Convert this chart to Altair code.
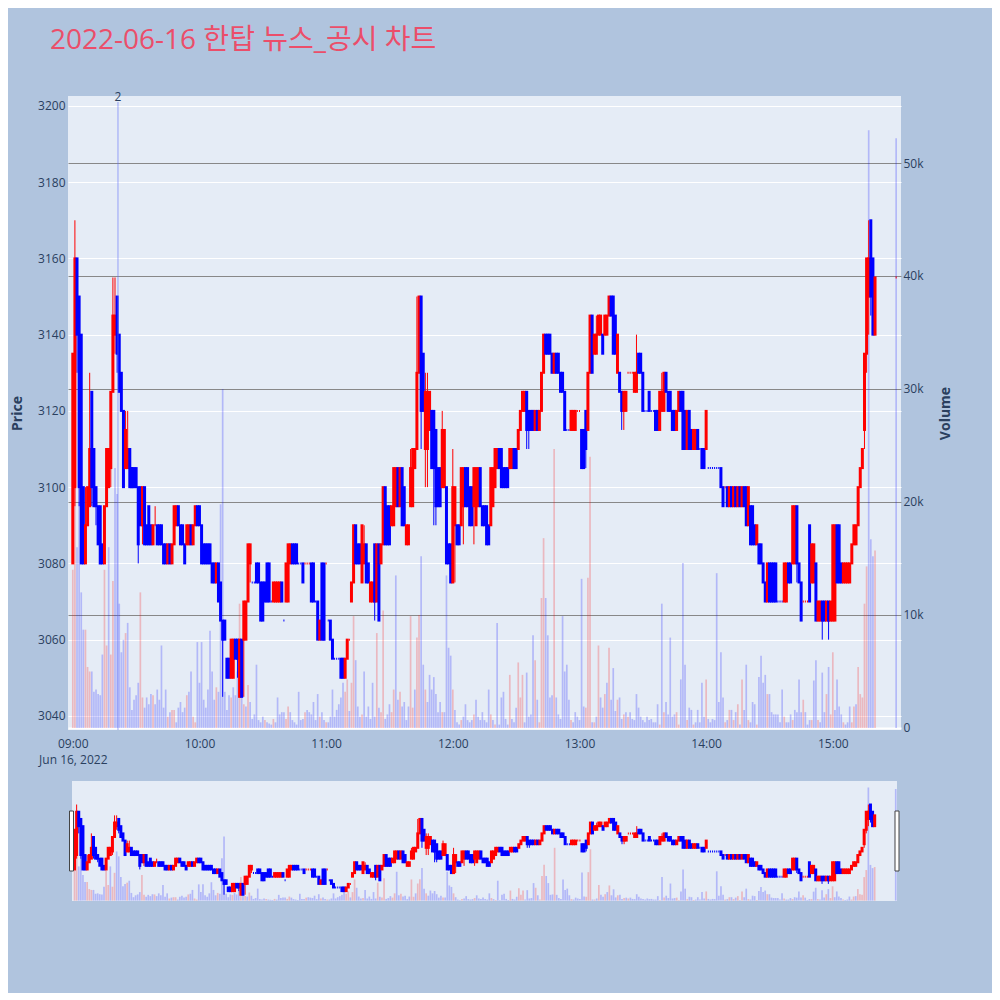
import altair as alt
import pandas as pd

TITLE = "2022-06-16 한탑 뉴스_공시 차트"
FONT = "Open Sans, Noto Sans CJK KR, sans-serif"
INK = "#2a3f5f"
UP = "#FF0000"
DOWN = "#0000FF"

# minutes after 09:00 (last row is the 15:30 closing auction)
minutes = list(range(381)) + [390]

opens = [
    3080, 3100, 3160, 3150, 3140, 3100, 3080, 3090, 3095, 3125,
    3110, 3100, 3095, 3095, 3085, 3080, 3095, 3100, 3105, 3125,
    3140, 3150, 3140, 3130, 3120, 3105, 3105, 3110, 3105, 3105,
    3105, 3100, 3100, 3090, 3100, 3090, 3095, 3090, 3085, 3090,
    3090, 3090, 3090, 3085, 3085, 3080, 3085, 3080, 3085, 3090,
    3095, 3090, 3090, 3085, 3085, 3085, 3090, 3085, 3090, 3095,
    3095, 3090, 3085, 3085, 3085, 3085, 3080, 3080, 3075, 3080,
    3075, 3065, 3065, 3055, 3055, 3050, 3050, 3060, 3060, 3045,
    3060, 3060, 3060, 3070, 3080, 3075, 3075, 3080, 3080, 3075,
    3075, 3075, 3080, 3080, 3070, 3070, 3070, 3070, 3070, 3075,
    3065, 3070, 3070, 3080, 3085, 3085, 3085, 3080, 3080, 3080,
    3080, 3080, 3080, 3080, 3080, 3070, 3070, 3060, 3080, 3080,
    3080, 3065, 3065, 3060, 3055, 3055, 3055, 3055, 3055, 3050,
    3055, 3060, 3070, 3075, 3090, 3085, 3085, 3075, 3080, 3085,
    3080, 3070, 3070, 3085, 3070, 3085, 3080, 3085, 3100, 3095,
    3095, 3090, 3090, 3095, 3105, 3095, 3105, 3100, 3085, 3085,
    3095, 3095, 3105, 3110, 3130, 3150, 3135, 3110, 3110, 3115,
    3120, 3120, 3115, 3105, 3105, 3100, 3100, 3100, 3085, 3085,
    3075, 3090, 3090, 3090, 3090, 3095, 3105, 3105, 3100, 3100,
    3095, 3090, 3095, 3105, 3095, 3095, 3095, 3090, 3090, 3095,
    3100, 3105, 3110, 3110, 3105, 3105, 3105, 3105, 3105, 3110,
    3110, 3110, 3115, 3120, 3120, 3125, 3120, 3120, 3120, 3115,
    3120, 3115, 3120, 3130, 3140, 3140, 3140, 3135, 3130, 3135,
    3135, 3130, 3130, 3125, 3115, 3115, 3115, 3115, 3115, 3120,
    3120, 3115, 3115, 3120, 3115, 3130, 3145, 3135, 3135, 3140,
    3140, 3140, 3140, 3140, 3145, 3150, 3150, 3145, 3130, 3130,
    3125, 3120, 3120, 3130, 3130, 3130, 3125, 3125, 3135, 3135,
    3130, 3120, 3120, 3125, 3120, 3120, 3120, 3120, 3115, 3120,
    3120, 3130, 3125, 3125, 3120, 3120, 3115, 3120, 3125, 3125,
    3120, 3110, 3120, 3115, 3110, 3110, 3115, 3110, 3110, 3110,
    3110, 3105, 3105, 3105, 3105, 3105, 3105, 3105, 3100, 3100,
    3100, 3095, 3100, 3095, 3100, 3095, 3100, 3095, 3100, 3100,
    3090, 3095, 3095, 3090, 3085, 3085, 3085, 3080, 3075, 3070,
    3080, 3080, 3080, 3080, 3070, 3070, 3070, 3070, 3070, 3080,
    3080, 3080, 3080, 3095, 3080, 3075, 3070, 3070, 3070, 3090,
    3075, 3075, 3080, 3065, 3065, 3070, 3070, 3065, 3070, 3065,
    3065, 3065, 3090, 3090, 3080, 3075, 3075, 3075, 3075, 3080,
    3085, 3085, 3090, 3100, 3105, 3115, 3135, 3150, 3170, 3160,
    3140, 3155,
]

closes = [
    3135, 3160, 3140, 3100, 3080, 3080, 3090, 3100, 3110, 3100,
    3095, 3095, 3085, 3080, 3080, 3095, 3110, 3110, 3125, 3145,
    3145, 3135, 3125, 3120, 3100, 3115, 3110, 3100, 3100, 3100,
    3100, 3085, 3090, 3100, 3085, 3085, 3085, 3085, 3090, 3090,
    3085, 3085, 3085, 3080, 3080, 3085, 3080, 3085, 3095, 3095,
    3090, 3085, 3085, 3080, 3090, 3090, 3085, 3090, 3095, 3090,
    3090, 3080, 3080, 3080, 3080, 3080, 3075, 3075, 3080, 3070,
    3065, 3060, 3060, 3050, 3050, 3060, 3060, 3055, 3055, 3060,
    3045, 3070, 3070, 3085, 3085, 3075, 3075, 3075, 3075, 3065,
    3065, 3070, 3070, 3070, 3070, 3075, 3075, 3075, 3075, 3070,
    3065, 3080, 3085, 3085, 3080, 3080, 3080, 3080, 3080, 3075,
    3080, 3080, 3080, 3070, 3070, 3070, 3060, 3065, 3060, 3060,
    3080, 3065, 3060, 3055, 3055, 3055, 3055, 3050, 3050, 3055,
    3060, 3060, 3075, 3090, 3080, 3080, 3080, 3090, 3085, 3075,
    3075, 3075, 3075, 3070, 3085, 3065, 3085, 3100, 3085, 3085,
    3085, 3095, 3105, 3105, 3095, 3105, 3090, 3090, 3090, 3090,
    3105, 3110, 3110, 3130, 3150, 3120, 3120, 3125, 3125, 3125,
    3105, 3105, 3095, 3095, 3095, 3115, 3115, 3080, 3080, 3075,
    3100, 3100, 3085, 3085, 3105, 3105, 3095, 3095, 3090, 3090,
    3105, 3105, 3105, 3095, 3090, 3090, 3085, 3085, 3105, 3105,
    3110, 3110, 3105, 3100, 3100, 3100, 3100, 3110, 3110, 3105,
    3105, 3115, 3120, 3125, 3125, 3115, 3115, 3115, 3115, 3120,
    3115, 3120, 3130, 3140, 3135, 3135, 3135, 3130, 3135, 3130,
    3130, 3125, 3125, 3115, 3115, 3115, 3120, 3120, 3120, 3120,
    3120, 3105, 3105, 3110, 3130, 3145, 3130, 3140, 3140, 3145,
    3145, 3135, 3145, 3145, 3150, 3145, 3135, 3135, 3140, 3125,
    3120, 3125, 3125, 3130, 3130, 3130, 3130, 3130, 3130, 3130,
    3120, 3120, 3120, 3120, 3120, 3120, 3115, 3115, 3125, 3125,
    3130, 3125, 3120, 3120, 3115, 3115, 3120, 3125, 3120, 3110,
    3110, 3120, 3110, 3110, 3115, 3115, 3110, 3110, 3105, 3105,
    3120, 3105, 3105, 3105, 3105, 3105, 3105, 3100, 3095, 3100,
    3095, 3100, 3095, 3100, 3095, 3100, 3095, 3100, 3095, 3090,
    3100, 3085, 3085, 3085, 3090, 3080, 3080, 3075, 3070, 3080,
    3070, 3070, 3070, 3070, 3070, 3070, 3070, 3080, 3080, 3075,
    3075, 3095, 3095, 3080, 3075, 3065, 3070, 3070, 3070, 3070,
    3085, 3085, 3065, 3070, 3070, 3065, 3065, 3070, 3065, 3070,
    3090, 3090, 3075, 3075, 3075, 3080, 3080, 3080, 3080, 3085,
    3090, 3090, 3100, 3105, 3110, 3135, 3160, 3160, 3150, 3140,
    3155, 3155,
]

highs = [
    3135, 3170, 3160, 3150, 3140, 3100, 3100, 3100, 3130, 3125,
    3110, 3100, 3095, 3095, 3085, 3095, 3110, 3110, 3125, 3155,
    3155, 3150, 3140, 3130, 3120, 3120, 3120, 3110, 3105, 3105,
    3105, 3100, 3100, 3100, 3100, 3090, 3095, 3090, 3090, 3095,
    3090, 3090, 3090, 3085, 3085, 3085, 3085, 3085, 3095, 3095,
    3095, 3090, 3090, 3085, 3090, 3090, 3090, 3090, 3095, 3095,
    3095, 3090, 3085, 3085, 3085, 3085, 3080, 3080, 3080, 3080,
    3075, 3065, 3065, 3055, 3055, 3060, 3060, 3060, 3060, 3060,
    3060, 3070, 3070, 3085, 3085, 3075, 3075, 3080, 3080, 3075,
    3075, 3075, 3080, 3080, 3070, 3075, 3075, 3075, 3075, 3075,
    3065, 3080, 3085, 3085, 3085, 3085, 3085, 3080, 3080, 3080,
    3080, 3080, 3080, 3080, 3080, 3070, 3070, 3065, 3080, 3080,
    3080, 3065, 3065, 3060, 3055, 3055, 3055, 3055, 3055, 3055,
    3060, 3060, 3075, 3090, 3090, 3085, 3085, 3090, 3090, 3085,
    3080, 3075, 3075, 3085, 3085, 3085, 3085, 3100, 3100, 3095,
    3095, 3095, 3105, 3105, 3105, 3105, 3105, 3100, 3090, 3090,
    3110, 3110, 3110, 3150, 3150, 3150, 3135, 3130, 3130, 3125,
    3120, 3120, 3115, 3105, 3105, 3120, 3115, 3100, 3085, 3085,
    3110, 3100, 3090, 3090, 3105, 3105, 3105, 3105, 3100, 3100,
    3105, 3105, 3105, 3105, 3095, 3095, 3095, 3090, 3105, 3105,
    3110, 3110, 3110, 3110, 3105, 3105, 3105, 3110, 3110, 3110,
    3110, 3115, 3120, 3125, 3125, 3125, 3120, 3120, 3120, 3120,
    3120, 3120, 3130, 3140, 3140, 3140, 3140, 3135, 3135, 3135,
    3135, 3130, 3130, 3125, 3115, 3115, 3120, 3120, 3120, 3120,
    3120, 3115, 3115, 3120, 3130, 3145, 3145, 3140, 3145, 3145,
    3145, 3140, 3145, 3145, 3150, 3150, 3150, 3145, 3140, 3130,
    3125, 3125, 3125, 3130, 3130, 3130, 3130, 3140, 3135, 3135,
    3130, 3120, 3120, 3125, 3120, 3120, 3120, 3120, 3125, 3130,
    3130, 3130, 3125, 3125, 3120, 3120, 3120, 3125, 3125, 3125,
    3120, 3120, 3120, 3115, 3115, 3115, 3115, 3110, 3110, 3110,
    3120, 3105, 3105, 3105, 3105, 3105, 3105, 3105, 3100, 3100,
    3100, 3100, 3100, 3100, 3100, 3100, 3100, 3100, 3100, 3100,
    3100, 3095, 3095, 3090, 3090, 3085, 3085, 3080, 3075, 3080,
    3080, 3080, 3080, 3080, 3070, 3070, 3070, 3080, 3080, 3080,
    3080, 3095, 3095, 3095, 3080, 3075, 3070, 3070, 3070, 3090,
    3085, 3085, 3080, 3070, 3070, 3070, 3070, 3070, 3070, 3070,
    3090, 3090, 3090, 3090, 3080, 3080, 3080, 3080, 3080, 3085,
    3090, 3090, 3100, 3105, 3110, 3135, 3160, 3170, 3170, 3160,
    3155, 3155,
]

lows = [
    3080, 3095, 3130, 3095, 3080, 3080, 3080, 3090, 3095, 3095,
    3095, 3090, 3085, 3080, 3080, 3080, 3095, 3100, 3100, 3125,
    3135, 3130, 3125, 3120, 3100, 3105, 3105, 3100, 3100, 3100,
    3100, 3080, 3090, 3085, 3085, 3085, 3085, 3085, 3085, 3090,
    3085, 3085, 3085, 3080, 3080, 3080, 3080, 3080, 3085, 3090,
    3090, 3085, 3085, 3080, 3085, 3085, 3085, 3085, 3090, 3090,
    3090, 3080, 3080, 3080, 3080, 3080, 3075, 3075, 3075, 3070,
    3065, 3045, 3060, 3050, 3050, 3050, 3050, 3055, 3050, 3045,
    3045, 3045, 3060, 3070, 3075, 3075, 3075, 3075, 3075, 3065,
    3065, 3070, 3070, 3070, 3070, 3070, 3070, 3070, 3070, 3070,
    3065, 3070, 3070, 3080, 3080, 3080, 3080, 3080, 3080, 3075,
    3080, 3080, 3080, 3070, 3070, 3070, 3060, 3060, 3060, 3060,
    3080, 3065, 3060, 3055, 3055, 3055, 3055, 3050, 3050, 3050,
    3055, 3060, 3070, 3075, 3080, 3080, 3080, 3075, 3080, 3075,
    3075, 3070, 3070, 3065, 3070, 3065, 3080, 3085, 3085, 3085,
    3085, 3090, 3090, 3095, 3095, 3095, 3090, 3090, 3085, 3085,
    3095, 3095, 3105, 3110, 3130, 3110, 3120, 3100, 3100, 3115,
    3105, 3090, 3090, 3095, 3095, 3100, 3100, 3080, 3080, 3075,
    3075, 3075, 3085, 3085, 3090, 3085, 3095, 3095, 3090, 3090,
    3085, 3090, 3095, 3095, 3090, 3090, 3085, 3085, 3090, 3095,
    3100, 3105, 3105, 3100, 3100, 3100, 3100, 3105, 3105, 3105,
    3105, 3110, 3115, 3120, 3120, 3110, 3110, 3115, 3115, 3115,
    3115, 3115, 3120, 3130, 3135, 3135, 3135, 3130, 3130, 3130,
    3130, 3125, 3125, 3115, 3115, 3115, 3115, 3115, 3115, 3120,
    3120, 3105, 3105, 3105, 3115, 3130, 3130, 3135, 3135, 3140,
    3140, 3135, 3140, 3140, 3145, 3145, 3135, 3135, 3130, 3125,
    3115, 3115, 3120, 3130, 3130, 3130, 3125, 3125, 3130, 3130,
    3120, 3120, 3120, 3120, 3120, 3120, 3115, 3115, 3115, 3120,
    3120, 3125, 3120, 3120, 3115, 3115, 3115, 3120, 3120, 3110,
    3110, 3110, 3110, 3110, 3110, 3110, 3110, 3110, 3105, 3105,
    3110, 3105, 3105, 3105, 3105, 3105, 3105, 3100, 3095, 3100,
    3095, 3095, 3095, 3095, 3095, 3095, 3095, 3095, 3095, 3090,
    3090, 3085, 3085, 3085, 3085, 3080, 3080, 3075, 3070, 3070,
    3070, 3070, 3070, 3070, 3070, 3070, 3070, 3070, 3070, 3075,
    3075, 3080, 3080, 3075, 3075, 3065, 3070, 3070, 3070, 3070,
    3075, 3075, 3065, 3065, 3065, 3060, 3065, 3065, 3060, 3065,
    3065, 3065, 3075, 3075, 3075, 3075, 3075, 3075, 3075, 3080,
    3085, 3085, 3090, 3100, 3105, 3110, 3130, 3140, 3145, 3140,
    3140, 3155,
]

# volume in thousands of shares
volumes_k = [
    14, 23, 16, 20, 12, 8.7, 8.7, 5.4, 5, 5,
    3.2, 3.4, 3, 2.9, 6.5, 14, 7.3, 16, 6.5, 13,
    23, 20.7, 11, 6.7, 7.8, 8.4, 9.3, 3.6, 1.6, 2.5,
    2.9, 4, 12, 2.7, 1.8, 2.7, 2.1, 3, 2.9, 2.1,
    3.4, 2.5, 7.3, 1.8, 3.4, 1, 1.4, 1.6, 1.6, 0.5,
    1.8, 2.3, 1.4, 1.8, 2.9, 3.2, 5, 1, 0.5, 7.6,
    4, 7.6, 2.5, 1.8, 3.4, 8.6, 5, 2.5, 3.6, 3.2,
    19.8, 30, 3.2, 1.6, 2.9, 2.7, 3.6, 2.9, 5, 11,
    3.8, 2.1, 1.9, 3.8, 2.3, 0.8, 1.2, 5.6, 0.7, 0.5,
    1, 0.7, 0.5, 0.4, 0.3, 0.8, 0.5, 2.7, 1.2, 1.4,
    1.4, 0.8, 1.9, 1.4, 0.7, 0.5, 0.3, 3.2, 0.7, 0.8,
    1.4, 1.6, 1.4, 1.2, 2.3, 0.7, 3, 1, 1.4, 0.7,
    0.5, 0.5, 1, 3.4, 1, 1.6, 2.1, 2.7, 4, 3.2,
    4.3, 1.5, 4, 9.9, 6, 1.9, 1, 1.2, 5, 1,
    1.9, 0.8, 4, 1, 8.4, 1.8, 1.4, 10.4, 0.8, 1.2,
    2.1, 1.4, 3.4, 13.5, 2.5, 3.2, 1.9, 2.3, 0.7, 1.9,
    9.9, 1.8, 3.4, 8, 10, 15.2, 5.6, 3.4, 2.3, 4.7,
    3.4, 4.5, 3, 1.4, 2.3, 1.4, 1.4, 13.5, 7.1, 6.4,
    3.4, 1.6, 0.5, 0.3, 0.7, 1, 2.1, 0.7, 0.5, 0.7,
    1.2, 2.5, 1, 0.7, 1.4, 0.7, 0.5, 3.4, 1.2, 0.7,
    0.3, 9.3, 0.3, 2.7, 3.2, 0.8, 0.3, 4.7, 0.8, 0.5,
    1.8, 5.8, 2.7, 4.7, 0.5, 4.9, 1, 1.2, 8.2, 6,
    2.5, 0.5, 11.5, 16.8, 11.5, 8.2, 2.7, 2.9, 24.7, 2.7,
    1.2, 0.8, 9.9, 5, 5.6, 2.5, 0.7, 0.5, 1.4, 1,
    0.7, 13.2, 1.9, 1.8, 13.3, 24, 0.5, 0.5, 1, 7.3,
    2.7, 1.8, 3, 4, 7.1, 2.5, 5.3, 1.5, 2.5, 2.7,
    0.8, 1.2, 1.4, 1, 1.4, 0.8, 0.7, 3, 1.8, 1,
    0.7, 0.5, 1, 0.7, 0.8, 0.5, 0.5, 2.1, 0.3, 11,
    1.4, 2.3, 1.2, 8, 1, 1.2, 1.4, 0.3, 4.3, 14.6,
    5.6, 0.7, 1.8, 1.6, 0.3, 0.5, 1.6, 0.5, 4, 1,
    4.3, 0.8, 0.5, 0.8, 0.7, 13.7, 2.3, 6.7, 2.7, 0.5,
    0.7, 1.6, 1.6, 0.7, 1.4, 2.1, 0.3, 4.3, 1.6, 5.6,
    0.7, 0.5, 2.3, 2.1, 0.3, 4.5, 6.4, 4, 4.7, 3,
    3, 1.4, 1.2, 1.2, 1.2, 0.5, 3.4, 1, 0.5, 0.5,
    1.2, 0.7, 1.6, 1.4, 4.3, 1.4, 2.5, 1.4, 0.3, 0.7,
    0.7, 4.2, 6, 0.7, 0.5, 4.9, 1.4, 3, 5.4, 1.2,
    6.7, 1.6, 4.3, 1.9, 1.2, 0.5, 0.3, 0.5, 1.9, 0.5,
    1.9, 2.1, 5.4, 3, 2.7, 11, 14.3, 52.9, 16.7, 15.2,
    15.7, 52.2,
]

news_minutes = [21.4]
news_labels = ["2"]

hour_ticks = [0, 60, 120, 180, 240, 300, 360]
hour_labels = ["09:00", "10:00", "11:00", "12:00", "13:00", "14:00", "15:00"]
date_label = "Jun 16, 2022"
price_ticks = [3040, 3060, 3080, 3100, 3120, 3140, 3160, 3180, 3200]
volume_ticks = [0, 10, 20, 30, 40, 50]

PRICE_DOMAIN = [3036.3, 3202.6]
VOLUME_DOMAIN = [-0.18, 55.93]

# plotly-style direction: flat candles follow the previous close
rows = []
prev_close, prev_dir = None, "up"
for m, o, h, l, c, v in zip(minutes, opens, highs, lows, closes, volumes_k):
    if c > o:
        d = "up"
    elif c < o:
        d = "down"
    elif prev_close is None or c > prev_close:
        d = "up"
    elif c < prev_close:
        d = "down"
    else:
        d = prev_dir
    vd = "up" if prev_close is None or c > prev_close else "down"
    rows.append({"m": m, "o": o, "h": h, "l": l, "c": c, "v": v, "dir": d, "vdir": vd})
    prev_close, prev_dir = c, d
df = pd.DataFrame(rows)
news = pd.DataFrame({"m": news_minutes, "label": news_labels})

dir_scale = alt.Scale(domain=["up", "down"], range=[UP, DOWN])


def panel(width, height, x_domain, full):
    """Candles over volume bars; full=True adds the axes and the news marker."""
    if full:
        x_axis = alt.Axis(values=hour_ticks, grid=False, ticks=False, domain=False,
                          labelFlush=False, labelPadding=8, labelLineHeight=16,
                          labelFontSize=12, labelColor=INK, title=None,
                          labelExpr=(f"datum.value == 0 ? ['{hour_labels[0]}', '{date_label}'] : "
                                     f"{hour_labels}[round(datum.value / 60)]"))
        price_axis = alt.Axis(orient="left", values=price_ticks, format="d", grid=True,
                              gridColor="white", gridWidth=1, ticks=False, domain=False,
                              labelPadding=3, labelFontSize=12, labelColor=INK, title="Price",
                              titleFontSize=14, titleFontWeight="bold", titleColor=INK,
                              titleAngle=270, titleBaseline="middle", titleX=-51)
        vol_axis = alt.Axis(orient="right", values=volume_ticks, grid=True,
                            gridColor={"condition": {"test": "datum.value === 0", "value": "#ffffff"},
                                       "value": "#888888"},
                            gridWidth={"condition": {"test": "datum.value === 0", "value": 2},
                                       "value": 1},
                            ticks=False, domain=False, labelPadding=2, labelFontSize=12,
                            labelColor=INK, labelExpr="datum.value == 0 ? '0' : datum.value + 'k'",
                            title="Volume", titleFontSize=14, titleFontWeight="bold",
                            titleColor=INK, titleAngle=270, titleBaseline="middle", titleX=44)
    else:
        x_axis = price_axis = vol_axis = None

    x = alt.X("m:Q", scale=alt.Scale(domain=x_domain, nice=False, zero=False, padding=0),
              axis=x_axis)
    price_scale = alt.Scale(domain=PRICE_DOMAIN, nice=False, zero=False)
    base = alt.Chart(df)

    vol = base.mark_bar(size=1.7, opacity=0.22).encode(
        x=x,
        y=alt.Y("v:Q", scale=alt.Scale(domain=VOLUME_DOMAIN, nice=False, zero=False),
                axis=vol_axis),
        y2=alt.datum(0),
        color=alt.Color("vdir:N", scale=dir_scale, legend=None))

    wick = base.mark_rule(strokeWidth=1).encode(
        x=x,
        y=alt.Y("l:Q", scale=price_scale, axis=price_axis),
        y2="h:Q",
        color=alt.Color("dir:N", scale=dir_scale, legend=None))
    body = base.mark_bar(size=1, strokeWidth=2).encode(
        x=x,
        y=alt.Y("o:Q", scale=price_scale, axis=price_axis),
        y2="c:Q",
        color=alt.Color("dir:N", scale=dir_scale, legend=None),
        stroke=alt.Stroke("dir:N", scale=dir_scale, legend=None))
    candles = alt.layer(wick, body)

    if full:
        line = alt.Chart(news).mark_rule(color="#636EFA", opacity=0.6, strokeWidth=1).encode(
            x=x, y=alt.value(6), y2=alt.value(height))
        label = alt.Chart(news).mark_text(baseline="middle", fontSize=12, color=INK).encode(
            x=x, y=alt.value(1), text="label:N")
        layers = [vol, candles, line, label]
    else:
        bg = alt.Chart(news).mark_rect(color="#E5ECF6").encode(
            x=alt.value(4), x2=alt.value(width), y=alt.value(0), y2=alt.value(height))
        handles = alt.Chart(news).mark_rect(fill="white", stroke="#444444", strokeWidth=1)
        left = handles.encode(x=alt.value(1.5), x2=alt.value(5.5),
                              y=alt.value(30), y2=alt.value(90))
        right = handles.encode(x=alt.value(width - 2), x2=alt.value(width + 2),
                               y=alt.value(30), y2=alt.value(90))
        layers = [bg, vol, candles, left, right]

    return alt.layer(*layers).resolve_scale(y="independent").properties(
        width=width, height=height)


main = panel(833, 634, [-2.27, 392.3], True).properties(
    title=alt.TitleParams(TITLE, anchor="start", frame="group", dx=-18, fontSize=28,
                          fontWeight="normal", color="#EB4E6A", offset=36))
slider = panel(829, 120, [-3.1, 390.6], False).properties(
    view=alt.ViewBackground(fill="transparent", strokeWidth=0))

chart = (alt.vconcat(main, slider, spacing=16)
         .properties(background="#B0C4DE",
                     padding={"left": 2, "top": 19, "right": 40, "bottom": 92})
         .configure(font=FONT)
         .configure_view(fill="#E5ECF6", strokeWidth=0))

chart.save("out.html", embed_options={"renderer": "svg", "actions": False})
